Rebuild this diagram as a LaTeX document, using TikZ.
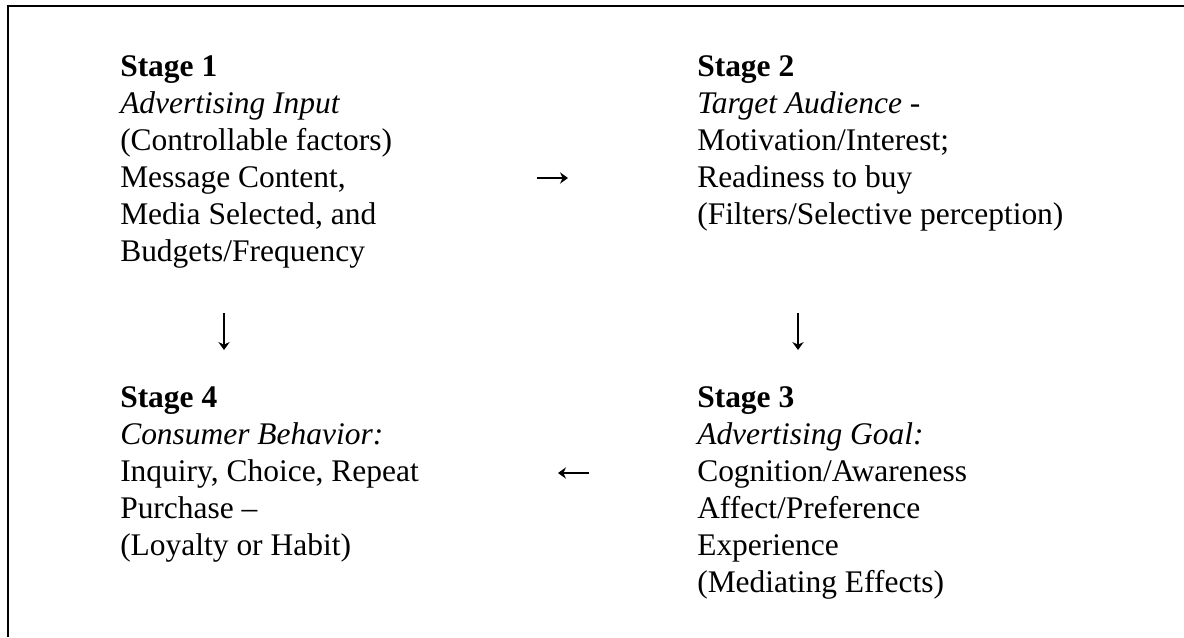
\documentclass[tikz,border=0pt]{standalone}
\usepackage{fontspec}
\setmainfont{Liberation Serif}
\usetikzlibrary{arrows.meta}
\tikzset{
  stagebox/.style={align=left, anchor=north west, inner sep=0pt,
    font=\fontsize{23.6}{27.75}\selectfont},
  flow/.style={line width=1.1pt, -{Stealth[length=6pt, width=8.5pt, inset=2pt]}}
}
\begin{document}
\begin{tikzpicture}[x=0.75pt, y=-0.75pt]
      \useasboundingbox (0,0) rectangle (1184,637);

      \draw[line width=1.8pt] (8,637) -- (8,6) -- (1184,6);

      \node[stagebox] (S1) at (120,50) {\strut\textbf{Stage 1}\\
        \textit{Advertising Input}\\
        (Controllable factors)\\
        Message Content,\\
        Media Selected, and\\
        Budgets/Frequency};
      \node[stagebox] (S2) at (697,50) {\strut\textbf{Stage 2}\\
        \textit{Target Audience} -\\
        Motivation/Interest;\\
        Readiness to buy\\
        (Filters/Selective perception)};
      \node[stagebox] (S3) at (697,381) {\strut\textbf{Stage 3}\\
        \textit{Advertising Goal:}\\
        Cognition/Awareness\\
        Affect/Preference\\
        Experience\\
        (Mediating Effects)};
      \node[stagebox] (S4) at (120,381) {\strut\textbf{Stage 4}\\
        \textit{Consumer Behavior:}\\
        Inquiry, Choice, Repeat\\
        Purchase –\\
        (Loyalty or Habit)};

      % short arrows between the stages
      \coordinate (a12) at (537,178);  \coordinate (b12) at (568,178);
      \coordinate (a23) at (798,313);  \coordinate (b23) at (798,350);
      \coordinate (a34) at (589,473);  \coordinate (b34) at (558,473);
      \coordinate (a14) at (224,313);  \coordinate (b14) at (224,350);

      \draw[flow] (a12) -- (b12);
      \draw[flow] (a23) -- (b23);
      \draw[flow] (a34) -- (b34);
      \draw[flow] (a14) -- (b14);
    \end{tikzpicture}
\end{document}
